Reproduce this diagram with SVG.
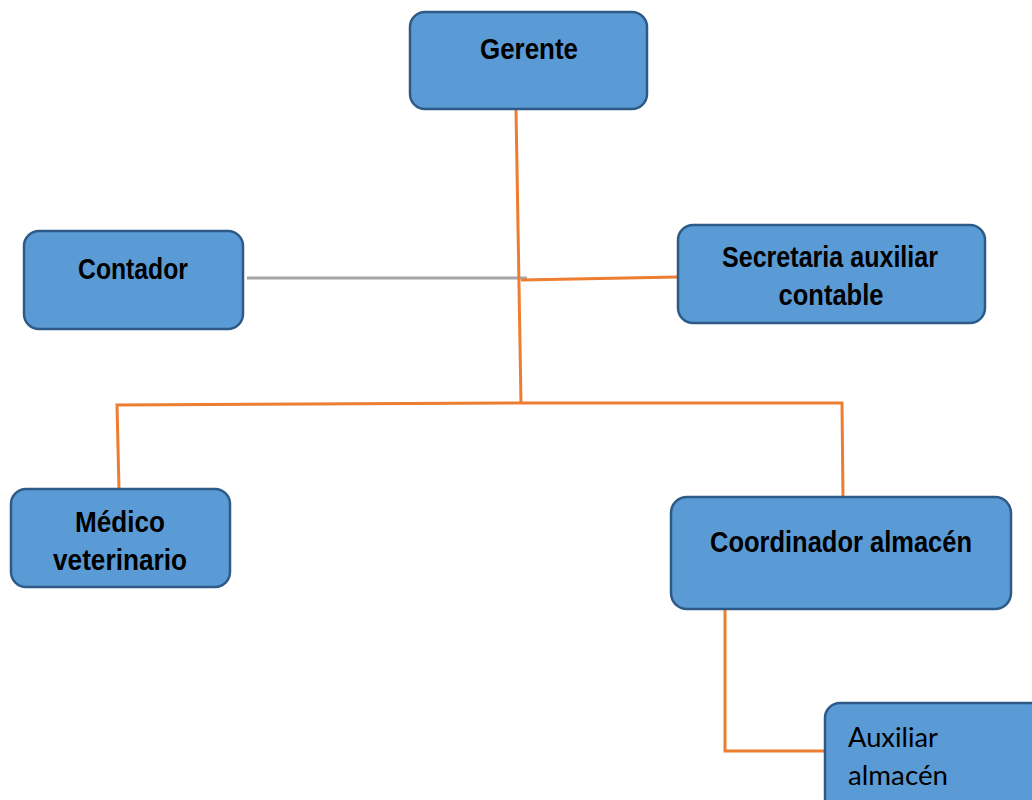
<svg xmlns="http://www.w3.org/2000/svg" width="1032" height="800" viewBox="0 0 1032 800">
<style>
.box{fill:#5b9bd5;stroke:#2e5a87;stroke-width:2.5}
.t{font-family:"Liberation Sans",Arial,sans-serif;font-weight:bold;font-size:29px;fill:#000;text-anchor:middle}
.r{font-family:Lato,"Open Sans",sans-serif;font-size:27px;fill:#000}
.o{stroke:#ed7d31;stroke-width:3;fill:none}
.g{stroke:#a5a5a5;stroke-width:3;fill:none}
</style>
<rect width="1032" height="800" fill="#fff"/>
<g id="connectors">
<line class="g" x1="247" y1="278" x2="527" y2="278"/>
<polyline class="o" points="516,109 521,403"/>
<polyline class="o" points="521,280 678,277"/>
<polyline class="o" points="119,489 117,405 521,403 842,403 843,497"/>
<polyline class="o" points="725,609 725,751 825,751"/>
</g>
<g id="gerente">
<rect class="box" x="410" y="12" width="237" height="97" rx="15"/>
<text class="t" x="529" y="59" textLength="98" lengthAdjust="spacingAndGlyphs">Gerente</text>
</g>
<g id="contador">
<rect class="box" x="24" y="231" width="219" height="98" rx="15"/>
<text class="t" x="133" y="279" textLength="110" lengthAdjust="spacingAndGlyphs">Contador</text>
</g>
<g id="secretaria">
<rect class="box" x="678" y="225" width="307" height="98" rx="15"/>
<text class="t" x="830" y="267" textLength="216" lengthAdjust="spacingAndGlyphs">Secretaria auxiliar</text>
<text class="t" x="831" y="305" textLength="105" lengthAdjust="spacingAndGlyphs">contable</text>
</g>
<g id="medico">
<rect class="box" x="11" y="489" width="219" height="98" rx="15"/>
<text class="t" x="120" y="532" textLength="90" lengthAdjust="spacingAndGlyphs">Médico</text>
<text class="t" x="120" y="570" textLength="134" lengthAdjust="spacingAndGlyphs">veterinario</text>
</g>
<g id="coordinador">
<rect class="box" x="671" y="497" width="340" height="112" rx="16"/>
<text class="t" x="841" y="552" textLength="262" lengthAdjust="spacingAndGlyphs">Coordinador almacén</text>
</g>
<g id="auxiliar">
<rect class="box" x="825" y="703" width="220" height="110" rx="15"/>
<text class="r" x="848" y="747" textLength="90" lengthAdjust="spacingAndGlyphs">Auxiliar</text>
<text class="r" x="848" y="785" textLength="100" lengthAdjust="spacingAndGlyphs">almacén</text>
</g>
</svg>
